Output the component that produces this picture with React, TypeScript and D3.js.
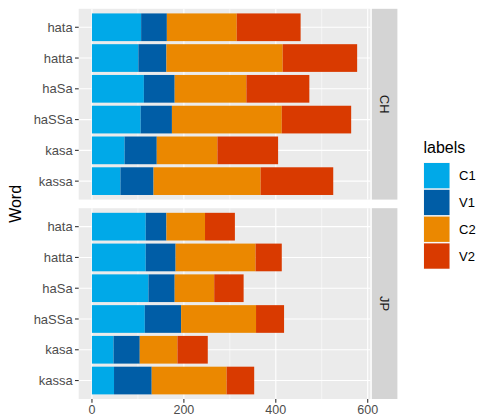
import React from "react";
import * as d3 from "d3";

const words = ["hata", "hatta", "haSa", "haSSa", "kasa", "kassa"];
const labels = ["C1", "V1", "C2", "V2"];
const colors = ["#00A9E8", "#005DA6", "#EB8800", "#D93A00"];
const panels = ["CH", "JP"];

// segment lengths per word: C1, V1, C2, V2
const chC1 = [107, 101, 113, 106, 71, 62];
const chV1 = [56, 61, 67, 68, 70, 72];
const chC2 = [152, 253, 156, 239, 132, 233];
const chV2 = [139, 162, 137, 151, 132, 158];

const jpC1 = [117, 117, 123, 115, 47, 48];
const jpV1 = [45, 65, 57, 79, 57, 82];
const jpC2 = [84, 174, 86, 163, 82, 163];
const jpV2 = [65, 57, 64, 61, 66, 60];

const xTicks = [0, 200, 400, 600];
const xMinor = [100, 300, 500];

const seriesByPanel: Record<string, number[][]> = {
  CH: [chC1, chV1, chC2, chV2],
  JP: [jpC1, jpV1, jpC2, jpV2],
};

export default function App() {
  const W = 481, H = 416;
  const font = "'Liberation Sans', Arial, Helvetica, sans-serif";
  const panelLeft = 78.7, panelRight = 370.4;
  const panelH = 190.8;
  const panelTops = [8.8, 208.2];
  const stripX = 371.8, stripW = 25.6;

  const totals = panels.flatMap((p) =>
    words.map((_, i) => d3.sum(seriesByPanel[p].map((s) => s[i])))
  );
  const maxT = d3.max(totals) as number;
  const x = d3
    .scaleLinear()
    .domain([-0.05 * maxT, maxT * 1.05])
    .range([panelLeft, panelRight]);

  return (
    <svg width={W} height={H} style={{ position: "absolute", left: 0, top: 0 }} fontFamily={font}>
      <rect width={W} height={H} fill="#fff" />
      {panels.map((p, pi) => {
        const top = panelTops[pi];
        const y = d3.scaleLinear().domain([0.4, 6.6]).range([top, top + panelH]);
        const bh = (y(1.45) - y(0.55));
        const stacked = words.map((_, i) => {
          let acc = 0;
          return seriesByPanel[p].map((s) => {
            const x0 = acc;
            acc += s[i];
            return [x0, acc];
          });
        });
        return (
          <g key={p}>
            <rect x={panelLeft} y={top} width={panelRight - panelLeft} height={panelH} fill="#EBEBEB" />
            {xMinor.map((t) => (
              <line key={"m" + t} x1={x(t)} x2={x(t)} y1={top} y2={top + panelH} stroke="#fff" strokeWidth={0.55} />
            ))}
            {xTicks.map((t) => (
              <line key={"M" + t} x1={x(t)} x2={x(t)} y1={top} y2={top + panelH} stroke="#fff" strokeWidth={1.1} />
            ))}
            {words.map((w, i) => (
              <line key={"h" + w} x1={panelLeft} x2={panelRight} y1={y(i + 1)} y2={y(i + 1)} stroke="#fff" strokeWidth={1.1} />
            ))}
            {words.map((w, i) =>
              stacked[i].map(([a, b], si) => (
                <rect
                  key={w + si}
                  x={x(a)}
                  y={y(i + 1) - bh / 2}
                  width={x(b) - x(a)}
                  height={bh}
                  fill={colors[si]}
                />
              ))
            )}
            {words.map((w, i) => (
              <g key={"yt" + w}>
                <line x1={panelLeft - 3.7} x2={panelLeft} y1={y(i + 1)} y2={y(i + 1)} stroke="#333" strokeWidth={1.1} />
                <text x={panelLeft - 6} y={y(i + 1)} dy="0.35em" textAnchor="end" fontSize={13} fill="#4D4D4D">
                  {w}
                </text>
              </g>
            ))}
            <rect x={stripX} y={top} width={stripW} height={panelH} fill="#D4D4D4" />
            <text
              transform={`translate(${stripX + stripW / 2},${top + panelH / 2}) rotate(90)`}
              textAnchor="middle"
              dy="0.35em"
              fontSize={13}
              fill="#1A1A1A"
            >
              {p}
            </text>
          </g>
        );
      })}
      {xTicks.map((t) => (
        <g key={"xt" + t}>
          <line x1={x(t)} x2={x(t)} y1={panelTops[1] + panelH} y2={panelTops[1] + panelH + 3.7} stroke="#333" strokeWidth={1.1} />
          <text x={x(t)} y={panelTops[1] + panelH + 14.5} textAnchor="middle" fontSize={12.5} fill="#4D4D4D">
            {t}
          </text>
        </g>
      ))}
      <text transform={`translate(21,${(panelTops[0] + panelTops[1] + panelH) / 2}) rotate(-90)`} textAnchor="middle" fontSize={16} fill="#000">
        Word
      </text>
      <text x={423.5} y={153} fontSize={16} fill="#000">labels</text>
      {labels.map((l, i) => (
        <g key={l}>
          <rect x={423.5} y={162.5 + i * 26.8} width={26.5} height={26.3} fill="#F2F2F2" />
          <rect x={424} y={163 + i * 26.8} width={25.5} height={25.3} fill={colors[i]} />
          <text x={459} y={175.7 + i * 26.8} dy="0.35em" fontSize={13} fill="#000">
            {l}
          </text>
        </g>
      ))}
    </svg>
  );
}
